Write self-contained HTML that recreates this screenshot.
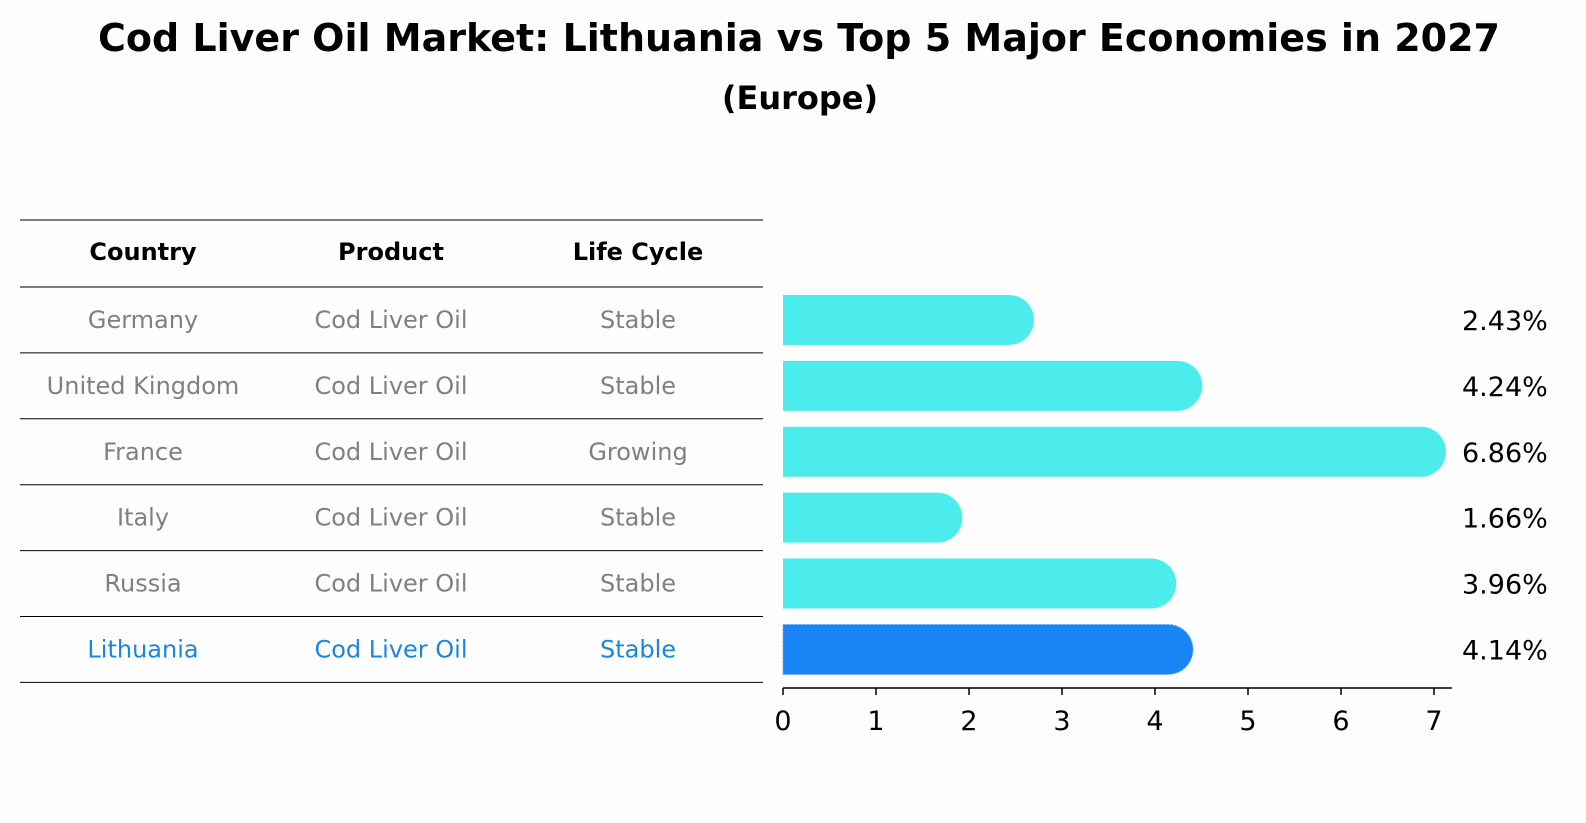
<!DOCTYPE html>
<html><head><meta charset="utf-8"><style>
body{margin:0;background:#fdfdfd;}
svg{display:block;font-family:"DejaVu Sans","Liberation Sans",sans-serif;}
</style></head><body>
<svg id="c" width="1586" height="823" viewBox="0 0 1586 823">
<rect width="1586" height="823" fill="#fdfdfd"/>
<text x="799" y="51" text-anchor="middle" font-size="38" font-weight="bold">Cod Liver Oil Market: Lithuania vs Top 5 Major Economies in 2027</text>
<text x="800" y="109" text-anchor="middle" font-size="32" font-weight="bold">(Europe)</text>
<g id="table"></g>
<g id="bars"></g>
<g id="axis"></g>
</svg>
<script>
const countries=["Germany","United Kingdom","France","Italy","Russia","Lithuania"];
const products=["Cod Liver Oil","Cod Liver Oil","Cod Liver Oil","Cod Liver Oil","Cod Liver Oil","Cod Liver Oil"];
const lifeCycles=["Stable","Stable","Growing","Stable","Stable","Stable"];
const values=[2.43,4.24,6.86,1.66,3.96,4.14];
const ticks=[0,1,2,3,4,5,6,7];
const NS="http://www.w3.org/2000/svg";
function mk(t,a,p,txt){const e=document.createElementNS(NS,t);for(const k in a)e.setAttribute(k,a[k]);if(txt!==undefined)e.textContent=txt;p.appendChild(e);return e;}
const x0=783,ppu=93,rowTop=287,rowH=65.9,barH=50,r=25;
const xs=v=>x0+v*ppu;
const yc=i=>rowTop+rowH*(i+0.5);
const tbl=document.getElementById('table');
const cols=[143,391,638];
let ln=mk('line',{x1:20,x2:763,y1:220,y2:220,stroke:'#000','stroke-width':1},tbl);

["Country","Product","Life Cycle"].forEach((h,j)=>{const t=mk('text',{x:cols[j],y:260,'text-anchor':'middle','font-size':24,'font-weight':'bold'},tbl,h);
});
for(let i=0;i<=countries.length;i++){const l=mk('line',{x1:20,x2:763,y1:rowTop+rowH*i,y2:rowTop+rowH*i,stroke:'#000','stroke-width':1},tbl);
}
countries.forEach((c,i)=>{const col=i===countries.length-1?'#1a86e0':'#808080';
[c,products[i],lifeCycles[i]].forEach((s,j)=>{const t=mk('text',{x:cols[j],y:yc(i)+8,'text-anchor':'middle','font-size':24,fill:col},tbl,s);
});});
const bg=document.getElementById('bars');
values.forEach((v,i)=>{const last=i===values.length-1;const col=last?'#1a86f5':'#4beceb';
const w=xs(v)-x0;const y=yc(i)-barH/2;
const p=mk('path',{d:`M${x0},${y}H${x0+w}A${r},${r} 0 0 1 ${x0+w},${y+barH}H${x0}Z`,fill:col},bg);
if(last){p.setAttribute('stroke','#6aa8f0');p.setAttribute('stroke-dasharray','2,2');p.setAttribute('stroke-width','1');}


const t=mk('text',{x:1462,y:yc(i)+10,'font-size':27},bg,v.toFixed(2)+'%');

});
const ax=document.getElementById('axis');
const al=mk('line',{x1:x0,x2:1452,y1:688,y2:688,stroke:'#000','stroke-width':1.5},ax);

ticks.forEach(v=>{const tl=mk('line',{x1:xs(v),x2:xs(v),y1:688,y2:695,stroke:'#000','stroke-width':1.5},ax);

const t=mk('text',{x:xs(v),y:730,'text-anchor':'middle','font-size':27},ax,String(v));
});
</script>
</body></html>
